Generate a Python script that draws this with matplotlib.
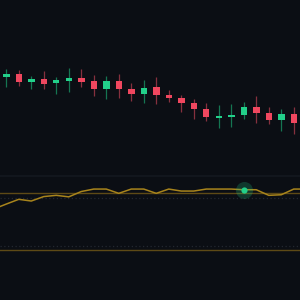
import matplotlib
matplotlib.use("Agg")
import matplotlib.pyplot as plt
import numpy as np

# ---- data ----
opens  = [102.27, 102.60, 101.77, 102.10, 101.67, 101.93, 102.17, 101.87, 101.10, 101.90, 101.10, 100.60,
          101.30, 100.50, 100.18, 99.70, 99.07, 98.23, 98.33, 98.47, 99.33, 98.67, 98.00, 98.57]
highs  = [103.10, 103.03, 102.43, 102.90, 102.30, 103.17, 103.10, 102.53, 102.37, 102.57, 101.73, 102.00,
          102.33, 101.00, 100.50, 100.10, 99.67, 99.47, 99.57, 99.83, 100.43, 99.33, 99.10, 99.33]
lows   = [101.30, 101.37, 101.10, 101.10, 100.63, 100.83, 101.33, 100.43, 100.15, 100.22, 99.95, 99.75,
          99.60, 99.80, 98.83, 98.10, 97.90, 97.17, 97.27, 98.10, 97.73, 97.60, 96.93, 96.60]
closes = [102.63, 101.77, 102.10, 101.63, 101.97, 102.17, 101.83, 101.10, 101.90, 101.10, 100.60, 101.25,
          100.50, 100.25, 99.68, 99.10, 98.27, 98.40, 98.50, 99.35, 98.67, 98.00, 98.57, 97.73]

# oscillator values, index -1 .. 24
osc_index = list(range(-1, 25))
osc_values = [63.5, 68.7, 73.7, 71.9, 76.6, 77.9, 76.3, 81.9, 84.5, 84.5, 80.0, 84.5, 84.5,
              80.0, 84.5, 82.4, 82.4, 84.5, 84.5, 84.5, 83.8, 83.8, 77.9, 78.5, 84.5, 84.5]
marker_index = 19
upper_band, lower_band = 80, 20
upper_dot, lower_dot = 75, 25

# ---- style ----
BG = "#0b0e14"
GREEN = "#22d08a"
RED = "#f0475f"
GREEN_WICK = "#157552"
RED_WICK = "#86303e"
GOLD = "#a8841c"
GOLD_DIM = "#5e4a16"
DOT_GREY = "#232830"

fig = plt.figure(figsize=(3, 3), dpi=100, facecolor=BG)
split = 1 - 177 / 300
ax = fig.add_axes([0, split, 1, 1 - split], facecolor=BG)
ax2 = fig.add_axes([0, 0, 1, split], facecolor=BG)

x = np.arange(len(opens))
for i in x:
    o, h, l, c = opens[i], highs[i], lows[i], closes[i]
    up = c >= o
    col = GREEN if up else RED
    wcol = GREEN_WICK if up else RED_WICK
    ax.vlines(i, l, h, color=wcol, lw=0.9, zorder=1)
    bottom = min(o, c)
    height = max(abs(c - o), 0.17)
    ax.bar(i, height, bottom=bottom, width=0.52, color=col, zorder=2, linewidth=0)

ax.set_xlim(-0.5, 23.5)
ax.set_ylim(92.3, 110)
ax.axis("off")

# indicator panel
ax2.set_xlim(-0.5, 23.5)
ax2.set_ylim(-32.3, 97.2)
ax2.axhline(upper_band, color=GOLD_DIM, lw=1.0, zorder=1)
ax2.axhline(lower_band, color=GOLD_DIM, lw=1.0, zorder=1)
ax2.axhline(upper_dot, color=DOT_GREY, lw=0.9, ls=(0, (1, 2)), zorder=1)
ax2.axhline(lower_dot, color=DOT_GREY, lw=0.9, ls=(0, (1, 2)), zorder=1)
ax2.plot(osc_index, osc_values, color=GOLD, lw=1.1, zorder=2)
mi = osc_index.index(marker_index)
ax2.scatter([marker_index], [osc_values[mi]], s=150, color=GREEN, alpha=0.22, linewidths=0, zorder=3)
ax2.scatter([marker_index], [osc_values[mi]], s=20, color=GREEN, linewidths=0, zorder=4)
ax2.axis("off")

# faint panel separator
fig.add_artist(plt.Line2D([0, 1], [split + 0.004, split + 0.004], color="#12161d", lw=1.5, transform=fig.transFigure))

fig.savefig("out.png", dpi=100, facecolor=BG)
